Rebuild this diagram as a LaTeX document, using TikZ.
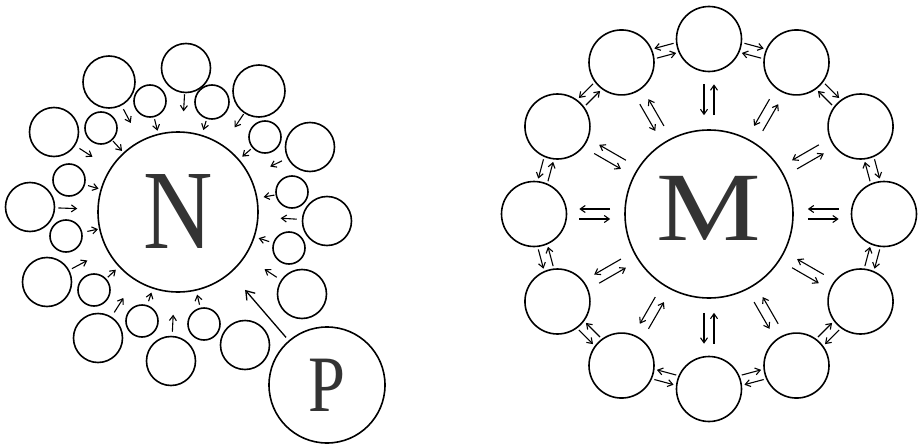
\documentclass[tikz,border=0pt]{standalone}
\usepackage{fontspec}
\setmainfont{Liberation Serif}
\usetikzlibrary{arrows.meta,calc}
\begin{document}
\begin{tikzpicture}[x=1pt,y=1pt,
  ring/.style={circle, draw, line width=1.6pt, inner sep=0pt},
  big/.style={ring, minimum size=49pt},
  sml/.style={ring, minimum size=32pt},
  rring/.style={ring, minimum size=65pt},
  arr/.style={line width=1.1pt, -{Straight Barb[length=5pt,width=7pt]}},
  parr/.style={line width=1.3pt, -{Straight Barb[length=8pt,width=11pt]}},
  letter/.style={text=black!80}]
\useasboundingbox (0,0) rectangle (921,-447);
% ---------------- left diagram ----------------
\node[ring, minimum size=160pt, letter, font=\fontsize{113}{113}\selectfont] (N) at (178,-212) {\scalebox{0.85}[1]{N}};
\node[big] (c1) at (186,-68) {};
\node[big, minimum size=52pt] (c2) at (109,-82) {};
\node[big, minimum size=52pt] (c3) at (259,-91) {};
\node[big] (c4) at (54,-132) {};
\node[big] (c5) at (310,-147) {};
\node[big] (c6) at (30,-207) {};
\node[big] (c7) at (327,-221) {};
\node[big] (c8) at (47,-282) {};
\node[big] (c9) at (302,-294) {};
\node[big] (c10) at (98,-338) {};
\node[big] (c11) at (171,-361) {};
\node[big] (c12) at (245,-345) {};
\node[sml] (sa) at (150,-101) {};
\node[sml, minimum size=34pt] (sb) at (212,-102) {};
\node[sml] (sc) at (101,-128) {};
\node[sml] (sd) at (265,-137) {};
\node[sml] (se) at (69,-180) {};
\node[sml] (sf) at (292,-192) {};
\node[sml] (sg) at (66,-236) {};
\node[sml] (sh) at (289,-248) {};
\node[sml] (si) at (94,-290) {};
\node[sml] (sj) at (142,-321) {};
\node[sml] (sk) at (204,-324) {};
\node[ring, minimum size=116pt, letter, font=\fontsize{80}{80}\selectfont] (P) at (327,-385) {\scalebox{0.83}[1]{P}};
% arrows towards N
\draw[arr, shorten <=1pt, shorten >=20pt] (c1) -- (N);
\draw[arr, shorten <=4pt, shorten >=20pt] (c2) -- (N);
\draw[arr, shorten <=1pt, shorten >=21pt] (c3) -- (N);
\draw[arr, shorten <=5pt, shorten >=21pt] (c4) -- (N);
\draw[arr, shorten <=6pt, shorten >=22pt] (c5) -- (N);
\draw[arr, shorten <=3pt, shorten >=20pt] (c6) -- (N);
\draw[arr, shorten <=5pt, shorten >=22pt] (c7) -- (N);
\draw[arr, shorten <=3pt, shorten >=22pt] (c8) -- (N);
\draw[arr, shorten <=5pt, shorten >=23pt] (c9) -- (N);
\draw[arr, shorten <=5pt, shorten >=21pt] (c10) -- (N);
\draw[arr, shorten <=4pt, shorten >=22pt] (c11) -- (N);
\draw[arr, shorten <=2pt, shorten >=3pt] (sa) -- (N);
\draw[arr, shorten <=2pt, shorten >=5pt] (sb) -- (N);
\draw[arr, shorten <=1pt, shorten >=2pt] (sc) -- (N);
\draw[arr, shorten <=2pt, shorten >=4pt] (sd) -- (N);
\draw[arr, shorten <=3pt, shorten >=2pt] (se) -- (N);
\draw[arr, shorten <=1pt, shorten >=6pt] (sf) -- (N);
\draw[arr, shorten <=5pt, shorten >=1pt] (sg) -- (N);
\draw[arr, shorten <=4pt, shorten >=4pt] (sh) -- (N);
\draw[arr, shorten <=2pt, shorten >=4pt] (si) -- (N);
\draw[arr, shorten <=4pt, shorten >=4pt] (sj) -- (N);
\draw[arr, shorten <=3pt, shorten >=4pt] (sk) -- (N);
\draw[parr, shorten <=4pt, shorten >=22pt] (P) -- (N);
% ---------------- right diagram ----------------
\node[ring, minimum size=168pt, letter, font=\fontsize{98}{98}\selectfont] (M) at (709,-214) {\raisebox{6pt}[\height][0pt]{\scalebox{1.2}[1]{M}}};
\foreach \k in {0,...,11}{
  \path (M.center) ++ ({90-30*\k}:175) node[rring] (R\k) {};
}
\foreach \k in {0,...,11}{
  \pgfmathsetmacro\th{90-30*\k}
  \draw[arr, shorten <=12pt, shorten >=14pt, transform canvas={shift={({\th+90}:5)}}] (R\k) -- (M);
  \draw[arr, shorten <=14pt, shorten >=12pt, transform canvas={shift={({\th-90}:5)}}] (M) -- (R\k);
}
\foreach \k in {0,...,11}{
  \pgfmathtruncatemacro\n{mod(\k+1,12)}
  \pgfmathsetmacro\md{75-30*\k}
  \ifnum\k<6
    \draw[arr, shorten <=2pt, shorten >=2pt, transform canvas={shift={(\md:5)}}] (R\k) -- (R\n);
    \draw[arr, shorten <=2pt, shorten >=2pt, transform canvas={shift={({\md+180}:5)}}] (R\n) -- (R\k);
  \else
    \draw[arr, shorten <=2pt, shorten >=2pt, transform canvas={shift={(\md:5)}}] (R\n) -- (R\k);
    \draw[arr, shorten <=2pt, shorten >=2pt, transform canvas={shift={({\md+180}:5)}}] (R\k) -- (R\n);
  \fi
}
\end{tikzpicture}
\end{document}
